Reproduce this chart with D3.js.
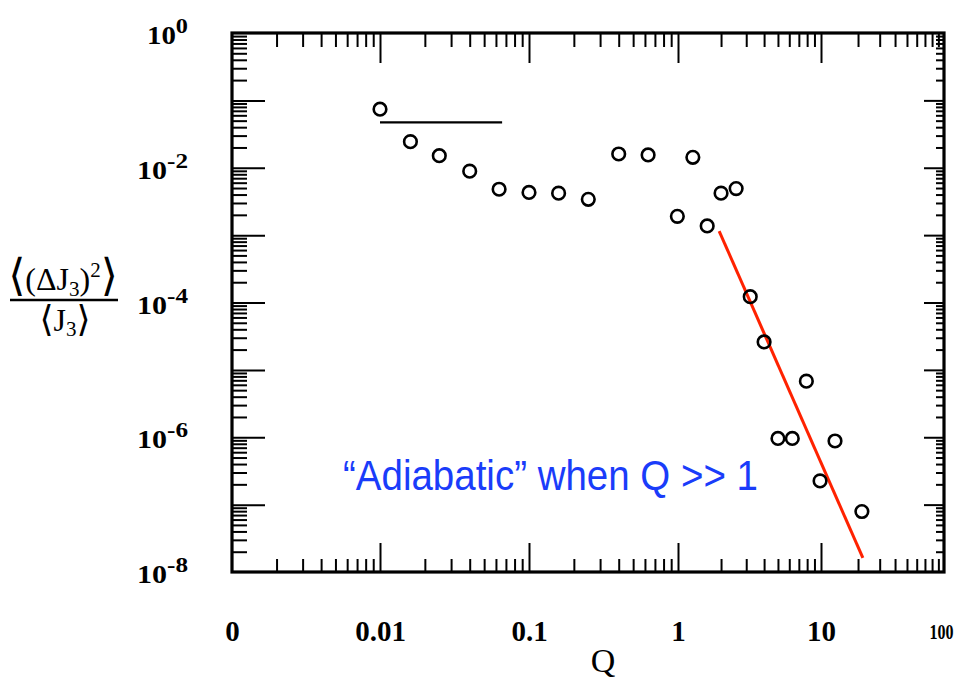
<!DOCTYPE html>
<html><head><meta charset="utf-8">
<script src="https://cdn.jsdelivr.net/npm/d3@7"></script>
<style>
html,body{margin:0;padding:0;background:#fff;}
svg{display:block;}
</style></head>
<body>
<svg id="chart" width="959" height="679"></svg>
<script>
// ---- data ----
const qValues = [0.01, 0.016, 0.025, 0.04, 0.063, 0.1, 0.158, 0.25, 0.4, 0.63, 1.27, 0.99, 1.6, 2.0, 2.55, 3.2, 4.0, 7.9, 5.0, 6.3, 13.0, 9.85, 21.5];
const ratioValues = [0.074, 0.0244, 0.0151, 0.0089, 0.0048, 0.0043, 0.0042, 0.0034, 0.016, 0.0155, 0.0143, 0.0019, 0.00137, 0.0042, 0.0049, 1.22e-4, 2.6e-5, 6.8e-6, 9.6e-7, 9.6e-7, 8.8e-7, 2.25e-7, 7.9e-8];
const flatLineQ = [0.01, 0.066];
const flatLineVal = [0.047, 0.047];
const fitLineQ = [1.94, 21.9];
const fitLineVal = [1.15e-3, 1.62e-8];
const xTickValues = [0.001, 0.01, 0.1, 1, 10, 100];
const xTickLabels = ["0", "0.01", "0.1", "1", "10", "100"];
const yLabelExponents = [0, -2, -4, -6, -8];
const annotationText = "\u201CAdiabatic\u201D when Q >> 1";

// ---- scales ----
const svg = d3.select("#chart");
const x = d3.scaleLog().domain(xTickValues).range([232, 380, 529, 678, 821, 944]);
const y = d3.scaleLog().domain([1e-8, 1]).range([572, 33]);
const X0 = 232, X1 = 944, Y0 = 572, Y1 = 33;

// minor tick positions
const xMinor = [];
for (let i = 0; i < xTickValues.length - 1; i++) for (let k = 2; k <= 9; k++) xMinor.push(xTickValues[i] * k);
const yMajor = d3.range(-8, 1).map(e => Math.pow(10, e));
const yMinor = [];
for (let e = -8; e < 0; e++) for (let k = 2; k <= 9; k++) yMinor.push(k * Math.pow(10, e));

function styleAxis(g) {
  g.select(".domain").remove();
  g.selectAll(".tick line").attr("stroke", "#000").attr("stroke-width", 2);
}
const serifFont = "'Liberation Serif', 'Times New Roman', serif";

// bottom axis
svg.append("g").attr("transform", `translate(0,${Y0})`)
  .call(d3.axisBottom(x).tickValues(xMinor).tickSize(-13).tickFormat(""))
  .call(styleAxis);
const bottom = svg.append("g").attr("transform", `translate(0,${Y0})`)
  .call(d3.axisBottom(x).tickValues(xTickValues).tickSize(-29).tickSizeOuter(0).tickPadding(50)
        .tickFormat((d, i) => xTickLabels[i]))
  .call(styleAxis);
const lastX = xTickLabels.length - 1;
bottom.selectAll(".tick text")
  .attr("font-family", serifFont)
  .attr("font-weight", "bold")
  .attr("font-size", (d, i) => i === lastX ? 20 : 29)
  .attr("fill", "#000")
  .attr("dy", (d, i) => i === lastX ? "0.85em" : "0.66em")
  .attr("x", (d, i) => i === lastX ? -3 : 0)
  .attr("textLength", (d, i) => i === lastX ? 24 : null)
  .attr("lengthAdjust", "spacingAndGlyphs");
bottom.selectAll(".tick").filter((d, i) => i === 0 || i === lastX).select("line").remove();

// top axis
svg.append("g").attr("transform", `translate(0,${Y1})`)
  .call(d3.axisTop(x).tickValues(xMinor).tickSize(-14).tickFormat(""))
  .call(styleAxis);
svg.append("g").attr("transform", `translate(0,${Y1})`)
  .call(d3.axisTop(x).tickValues(xTickValues.slice(1, -1)).tickSize(-30).tickFormat(""))
  .call(styleAxis);

// left axis
svg.append("g").attr("transform", `translate(${X0},0)`)
  .call(d3.axisLeft(y).tickValues(yMinor).tickSize(-15).tickFormat(""))
  .call(styleAxis);
svg.append("g").attr("transform", `translate(${X0},0)`)
  .call(d3.axisLeft(y).tickValues(yMajor.slice(1, -1)).tickSize(-33).tickFormat(""))
  .call(styleAxis);

// right axis
svg.append("g").attr("transform", `translate(${X1},0)`)
  .call(d3.axisRight(y).tickValues(yMinor).tickSize(-8).tickFormat(""))
  .call(styleAxis);
svg.append("g").attr("transform", `translate(${X1},0)`)
  .call(d3.axisRight(y).tickValues(yMajor.slice(1, -1)).tickSize(-20).tickFormat(""))
  .call(styleAxis);

// frame
svg.append("rect").attr("x", X0).attr("y", Y1).attr("width", X1 - X0).attr("height", Y0 - Y1)
  .attr("fill", "none").attr("stroke", "#000").attr("stroke-width", 3.2);

// y labels
const yl = svg.append("g").attr("font-family", serifFont)
  .attr("font-weight", "bold").attr("fill", "#000");
yLabelExponents.forEach(e => {
  const t = yl.append("text").attr("x", 188).attr("y", y(Math.pow(10, e)) + 11)
    .attr("text-anchor", "end").attr("font-size", 25)
    .attr("textLength", e === 0 ? 41 : 51).attr("lengthAdjust", "spacingAndGlyphs");
  t.append("tspan").text("10");
  t.append("tspan").attr("dy", -11).attr("font-size", 21).text(e === 0 ? "0" : "-" + Math.abs(e));
});

// y title (fraction)
const bracketFont = "'DejaVu Serif', 'Liberation Serif', serif";
const num = svg.append("text").attr("x", 63).attr("y", 290).attr("text-anchor", "middle")
  .attr("font-family", serifFont).attr("font-size", 32).attr("fill", "#000");
num.append("tspan").attr("font-family", bracketFont).attr("font-size", 44).text("\u27E8");
num.append("tspan").text("(\u0394J");
num.append("tspan").attr("font-size", 21).attr("dy", 6).text("3");
num.append("tspan").attr("dy", -6).text(")");
num.append("tspan").attr("font-size", 21).attr("dy", -13).text("2");
num.append("tspan").attr("font-family", bracketFont).attr("font-size", 44).attr("dy", 13).text("\u27E9");
svg.append("line").attr("x1", 10).attr("x2", 118).attr("y1", 300).attr("y2", 300)
  .attr("stroke", "#000").attr("stroke-width", 2.5);
const den = svg.append("text").attr("x", 65).attr("y", 331).attr("text-anchor", "middle")
  .attr("font-family", serifFont).attr("font-size", 32).attr("fill", "#000");
den.append("tspan").attr("font-family", bracketFont).attr("font-size", 36).text("\u27E8");
den.append("tspan").text("J");
den.append("tspan").attr("font-size", 21).attr("dy", 5).text("3");
den.append("tspan").attr("font-family", bracketFont).attr("font-size", 36).attr("dy", -5).text("\u27E9");

// x title
svg.append("text").attr("x", 603).attr("y", 672).attr("text-anchor", "middle")
  .attr("font-family", serifFont).attr("font-size", 34).attr("fill", "#000").text("Q");

// lines
const line = d3.line().x(d => x(d[0])).y(d => y(d[1]));
svg.append("path").datum(d3.zip(flatLineQ, flatLineVal)).attr("d", line)
  .attr("fill", "none").attr("stroke", "#000").attr("stroke-width", 2.2);
svg.append("path").datum(d3.zip(fitLineQ, fitLineVal)).attr("d", line)
  .attr("fill", "none").attr("stroke", "#ff2200").attr("stroke-width", 3);

// points
svg.append("g").selectAll("circle").data(d3.zip(qValues, ratioValues)).join("circle")
  .attr("cx", d => x(d[0])).attr("cy", d => y(d[1])).attr("r", 6.3)
  .attr("fill", "none").attr("stroke", "#000").attr("stroke-width", 2.6);

// annotation
svg.append("text").attr("x", 343).attr("y", 490)
  .attr("font-family", "'Liberation Sans', Arial, sans-serif").attr("font-size", 42)
  .attr("fill", "#1a3cfa").attr("textLength", 415).attr("lengthAdjust", "spacingAndGlyphs")
  .text(annotationText);
</script>
</body></html>
